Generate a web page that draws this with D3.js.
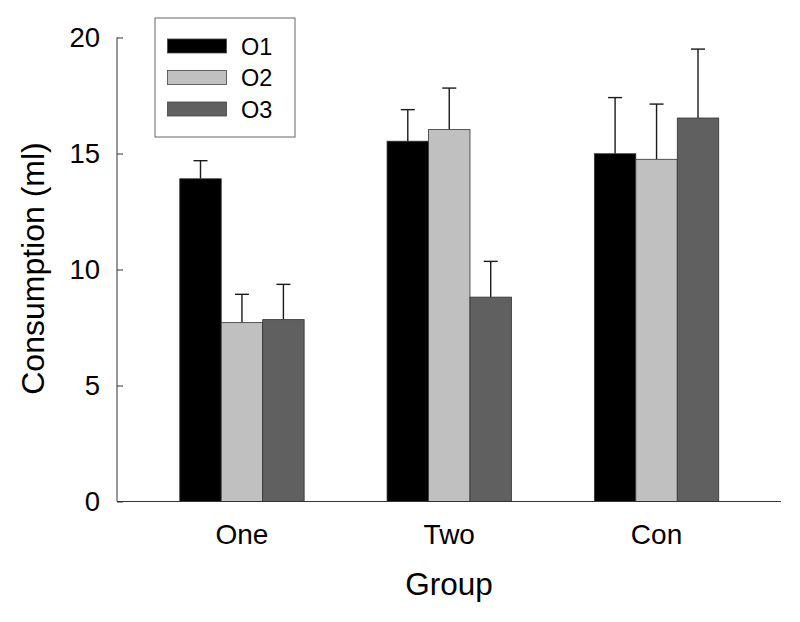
<!DOCTYPE html>
<html><head><meta charset="utf-8">
<script src="https://cdn.jsdelivr.net/npm/d3@7/dist/d3.min.js"></script>
<style>body{margin:0;background:#fff}svg{display:block}text{font-family:"Liberation Sans",Arial,sans-serif;fill:#000}</style>
</head><body>
<script>
const groups = ["One", "Two", "Con"];
const seriesNames = ["O1", "O2", "O3"];
const means = {
  O1: [13.91, 15.53, 14.99],
  O2: [7.71, 16.03, 14.75],
  O3: [7.84, 8.81, 16.53]
};
const errors = {
  O1: [0.78, 1.36, 2.42],
  O2: [1.22, 1.79, 2.38],
  O3: [1.52, 1.54, 2.97]
};
const colors = ["#000000", "#c0c0c0", "#606060"];
const yTicks = [0, 5, 10, 15, 20];

const W = 800, H = 622;
const svg = d3.select("body").append("svg").attr("width", W).attr("height", H);

const axisX0 = 117, axisX1 = 781, y0 = 501.5, y1 = 37.5;
const y = d3.scaleLinear().domain([0, 20]).range([y0, y1]);
const x = d3.scaleBand().domain(groups).range([138.3, 760.2]).paddingInner(0).paddingOuter(0);
const xs = d3.scaleBand().domain(seriesNames).range([0, x.bandwidth() * 0.6]);
const color = d3.scaleOrdinal().domain(seriesNames).range(colors);

const data = [];
groups.forEach((g, gi) => seriesNames.forEach(s => data.push({g, s, v: means[s][gi], e: errors[s][gi]})));
const bx = d => x(d.g) + x.bandwidth() * 0.2 + xs(d.s);

// error bars (upward only)
const eb = svg.append("g");
eb.selectAll("line.v").data(data).join("line")
  .attr("x1", d => bx(d) + xs.bandwidth() / 2).attr("x2", d => bx(d) + xs.bandwidth() / 2)
  .attr("y1", d => y(d.v)).attr("y2", d => y(d.v + d.e))
  .attr("stroke", "#1a1a1a").attr("stroke-width", 1.4);
eb.selectAll("line.c").data(data).join("line")
  .attr("x1", d => bx(d) + xs.bandwidth() / 2 - 7).attr("x2", d => bx(d) + xs.bandwidth() / 2 + 7)
  .attr("y1", d => y(d.v + d.e)).attr("y2", d => y(d.v + d.e))
  .attr("stroke", "#1a1a1a").attr("stroke-width", 1.4);

// bars
svg.append("g").selectAll("rect").data(data).join("rect")
  .attr("x", d => bx(d)).attr("width", xs.bandwidth())
  .attr("y", d => y(d.v)).attr("height", d => y(0) - y(d.v))
  .attr("fill", d => color(d.s))
  .attr("stroke", "#333").attr("stroke-width", 0.8);

// y axis
const ya = svg.append("g").attr("transform", `translate(${axisX0},0)`)
  .call(d3.axisLeft(y).tickValues(yTicks).tickSizeInner(-6).tickSizeOuter(0).tickPadding(17));
ya.select(".domain").attr("stroke", "#333").attr("d", `M0,${y0}V${y1}`);
ya.selectAll(".tick line").attr("stroke", "#333");
ya.selectAll(".tick text").attr("font-size", 27.5).attr("font-family", '"Liberation Sans",Arial,sans-serif').attr("fill", "#000");

// x axis line
svg.append("line").attr("x1", axisX0).attr("x2", axisX1).attr("y1", y0).attr("y2", y0)
  .attr("stroke", "#333").attr("stroke-width", 1.2);
const xa = svg.append("g").attr("transform", `translate(0,${y0})`)
  .call(d3.axisBottom(x).tickSize(0).tickPadding(0));
xa.select(".domain").remove();
xa.selectAll(".tick text").attr("font-size", 28).attr("dy", null).attr("y", 42)
  .attr("font-family", '"Liberation Sans",Arial,sans-serif').attr("fill", "#000");

// titles
svg.append("text").attr("x", (axisX0 + axisX1) / 2).attr("y", 595).attr("text-anchor", "middle")
  .attr("font-size", 31.5).text("Group");
svg.append("text").attr("transform", "translate(44,268.5) rotate(-90)").attr("text-anchor", "middle")
  .attr("font-size", 32).text("Consumption (ml)");

// legend
const lg = svg.append("g");
lg.append("rect").attr("x", 155).attr("y", 18).attr("width", 140).attr("height", 119)
  .attr("fill", "#fff").attr("stroke", "#666").attr("stroke-width", 1);
const ly = d3.scalePoint().domain(seriesNames).range([46, 109]);
lg.selectAll("rect.sw").data(seriesNames).join("rect").attr("class", "sw")
  .attr("x", 167.5).attr("width", 59).attr("y", s => ly(s) - 7).attr("height", 14)
  .attr("fill", s => color(s)).attr("stroke", "#444").attr("stroke-width", 0.8);
lg.selectAll("text").data(seriesNames).join("text")
  .attr("x", 241).attr("y", s => ly(s) + 8.5).attr("font-size", 23.5).text(s => s);
</script>
</body></html>
